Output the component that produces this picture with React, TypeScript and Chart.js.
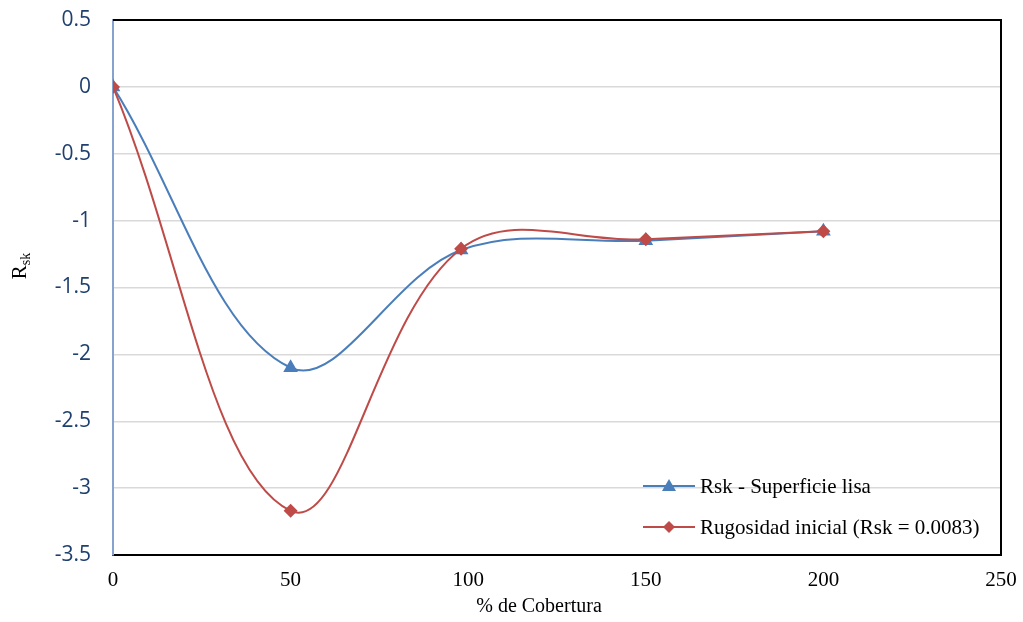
import React, { useEffect, useRef } from "react";
import { Chart, registerables } from "chart.js";

Chart.register(...registerables);

const coverage = [0, 50, 98, 150, 200];
const rskSmooth = [0, -2.1, -1.22, -1.15, -1.08];
const rskRough = [0, -3.17, -1.21, -1.14, -1.08];
const seriesNames = ["Rsk - Superficie lisa", "Rugosidad inicial (Rsk = 0.0083)"];
const xTitle = "% de Cobertura";

const BLUE = "#4a7ebb";
const RED = "#be4b48";
const SERIF = "'Liberation Serif', 'Times New Roman', serif";

const overlay = {
  id: "overlay",
  afterDatasetsDraw(chart: any) {
    const { ctx, chartArea } = chart;
    const { left, right, top, bottom } = chartArea;
    ctx.save();
    ctx.strokeStyle = "#000";
    ctx.lineWidth = 2;
    ctx.beginPath();
    ctx.moveTo(left, top);
    ctx.lineTo(right, top);
    ctx.lineTo(right, bottom);
    ctx.stroke();

    const entries = [
      { name: seriesNames[0], color: BLUE, style: "triangle", y: 486 },
      { name: seriesNames[1], color: RED, style: "rectRot", y: 527 },
    ];
    ctx.font = "21px " + SERIF;
    ctx.textBaseline = "middle";
    ctx.textAlign = "left";
    for (const e of entries) {
      ctx.strokeStyle = e.color;
      ctx.lineWidth = 2;
      ctx.beginPath();
      ctx.moveTo(643, e.y);
      ctx.lineTo(695, e.y);
      ctx.stroke();
      ctx.fillStyle = e.color;
      ctx.beginPath();
      if (e.style === "triangle") {
        ctx.moveTo(669, e.y - 7);
        ctx.lineTo(676, e.y + 5);
        ctx.lineTo(662, e.y + 5);
      } else {
        ctx.moveTo(669, e.y - 6);
        ctx.lineTo(675, e.y);
        ctx.lineTo(669, e.y + 6);
        ctx.lineTo(663, e.y);
      }
      ctx.closePath();
      ctx.fill();
      ctx.fillStyle = "#000";
      ctx.fillText(e.name, 700, e.y + 1);
    }

    ctx.font = "20px " + SERIF;
    ctx.textAlign = "center";
    ctx.fillStyle = "#000";
    ctx.fillText(xTitle, 539, 607);

    ctx.translate(20, 266);
    ctx.rotate(-Math.PI / 2);
    ctx.textAlign = "left";
    ctx.font = "21px " + SERIF;
    const rw = ctx.measureText("R").width;
    ctx.font = "14px " + SERIF;
    const sw = ctx.measureText("sk").width;
    const total = rw + sw;
    ctx.font = "21px " + SERIF;
    ctx.fillText("R", -total / 2, 0);
    ctx.font = "14px " + SERIF;
    ctx.fillText("sk", -total / 2 + rw, 6);
    ctx.restore();
  },
};

const noPad = (s: any) => {
  s.paddingTop = 0;
  s.paddingBottom = 0;
  s.paddingLeft = 0;
  s.paddingRight = 0;
};

export default function App() {
  const ref = useRef<HTMLCanvasElement>(null);
  useEffect(() => {
    const chart = new Chart(ref.current!, {
      type: "line",
      data: {
        datasets: [
          {
            label: seriesNames[0],
            data: coverage.map((x, i) => ({ x, y: rskSmooth[i] })),
            borderColor: BLUE,
            backgroundColor: BLUE,
            borderWidth: 2,
            pointStyle: "triangle",
            pointRadius: 8.5,
            pointBorderWidth: 0,
            tension: 0.36,
            order: 1,
          },
          {
            label: seriesNames[1],
            data: coverage.map((x, i) => ({ x, y: rskRough[i] })),
            borderColor: RED,
            backgroundColor: RED,
            borderWidth: 2,
            pointStyle: "rectRot",
            pointRadius: 7,
            pointBorderWidth: 0,
            tension: 0.38,
            order: 0,
          },
        ],
      },
      options: {
        animation: false,
        responsive: false,
        events: [],
        layout: { padding: { left: 0, top: 20, right: 22, bottom: 0 } },
        plugins: { legend: { display: false }, tooltip: { enabled: false } },
        scales: {
          x: {
            type: "linear",
            min: 0,
            max: 250,
            afterFit: (s: any) => {
              s.height = 67;
              noPad(s);
            },
            ticks: {
              stepSize: 50,
              padding: 13,
              color: "#000",
              font: { family: SERIF, size: 21 },
            },
            grid: { display: false, drawTicks: false },
            border: { display: true, color: "#000", width: 2 },
          },
          y: {
            type: "linear",
            min: -3.5,
            max: 0.5,
            afterFit: (s: any) => {
              s.width = 113;
              noPad(s);
            },
            ticks: {
              stepSize: 0.5,
              padding: 22,
              color: "#1f3f6e",
              font: { family: "'Open Sans', 'Noto Sans', sans-serif", size: 21 },
              callback: (v: any) => String(Math.round(Number(v) * 10) / 10),
            },
            grid: { color: "#d9d9d9", lineWidth: 1.5, drawTicks: false },
            border: { display: true, color: "#86a2cf", width: 2 },
          },
        },
      },
      plugins: [overlay],
    });
    return () => chart.destroy();
  }, []);
  return (
    <div style={{ position: "fixed", left: 0, top: 0, width: 1023, height: 622, background: "#fff" }}>
      <canvas ref={ref} width={1023} height={622} />
    </div>
  );
}
